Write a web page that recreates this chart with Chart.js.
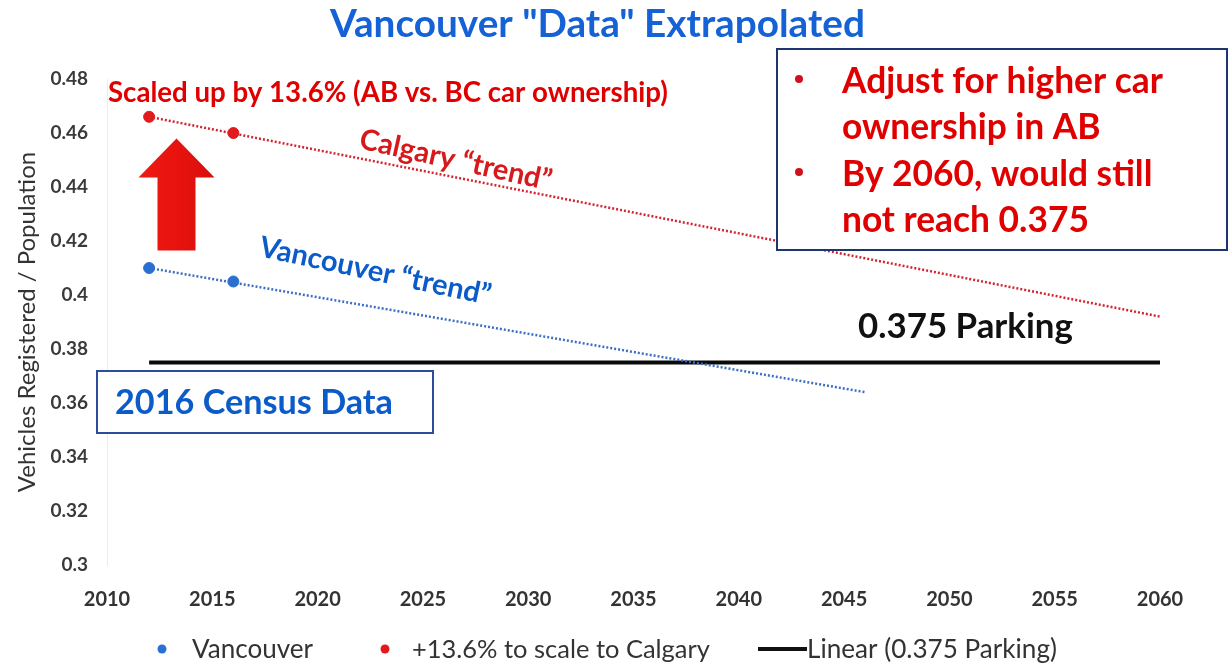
<!DOCTYPE html>
<html>
<head>
<meta charset="utf-8">
<script src="https://cdn.jsdelivr.net/npm/chart.js@4.4.1/dist/chart.umd.min.js"></script>
<style>
  html, body { margin: 0; padding: 0; background: #fff; }
  canvas { display: block; }
</style>
</head>
<body>
<canvas id="trendChart" width="1231" height="664"></canvas>
<script>
// census points (year, vehicles per person)
const censusYears = [2012, 2016];
const vancouverValues = [0.41, 0.405];
const calgaryValues = [0.466, 0.46];   // vancouver scaled up 13.6%

// extrapolated trend lines
const vancouverTrendYears = [2012, 2046];
const vancouverTrendValues = [0.41, 0.364];
const calgaryTrendYears = [2012, 2060];
const calgaryTrendValues = [0.466, 0.392];

// parking ratio
const parkingYears = [2012, 2060];
const parkingValues = [0.375, 0.375];

const xTickValues = [2010, 2015, 2020, 2025, 2030, 2035, 2040, 2045, 2050, 2055, 2060];
const yTickValues = [0.3, 0.32, 0.34, 0.36, 0.38, 0.4, 0.42, 0.44, 0.46, 0.48];

const BLUE = "#2a6fd3";
const RED = "#e31a1c";
const TEXT_RED = "#e00000";
const TEXT_BLUE = "#0b5cc9";
const FONT = "Lato, 'Open Sans', sans-serif";

const pts = (xs, ys) => xs.map((x, i) => ({ x: x, y: ys[i] }));

// draw text scaled so it spans the given width
function fitText(ctx, text, x, y, width, weight, color, align) {
  ctx.font = weight + " 20px " + FONT;
  const size = 20 * width / ctx.measureText(text).width;
  ctx.font = weight + " " + size.toFixed(2) + "px " + FONT;
  ctx.fillStyle = color;
  ctx.textAlign = align || "left";
  ctx.fillText(text, x, y);
  return size;
}

const annotations = {
  id: "annotations",
  afterDraw(chart) {
    const ctx = chart.ctx;
    const xs = chart.scales.x, ys = chart.scales.y;
    ctx.save();
    ctx.textBaseline = "alphabetic";

    // title
    fitText(ctx, 'Vancouver "Data" Extrapolated', 330, 37, 535, "bold", "#1462d6");

    // scaling note
    fitText(ctx, "Scaled up by 13.6% (AB vs. BC car ownership)", 108, 102, 560, "bold", TEXT_RED);

    // big up arrow between the two series
    const ax = xs.getPixelForValue(2013.3);
    const aBase = ys.getPixelForValue(0.4165);
    const aNeck = ys.getPixelForValue(0.4435);
    const aTip = ys.getPixelForValue(0.458);
    const grad = ctx.createLinearGradient(ax - 38, 0, ax + 38, 0);
    grad.addColorStop(0, "#f01a12");
    grad.addColorStop(0.5, "#e8120e");
    grad.addColorStop(1, "#d8100c");
    ctx.fillStyle = grad;
    ctx.beginPath();
    ctx.moveTo(ax - 19, aBase);
    ctx.lineTo(ax - 19, aNeck);
    ctx.lineTo(ax - 38, aNeck);
    ctx.lineTo(ax, aTip);
    ctx.lineTo(ax + 38, aNeck);
    ctx.lineTo(ax + 19, aNeck);
    ctx.lineTo(ax + 19, aBase);
    ctx.closePath();
    ctx.fill();

    // slanted trend labels
    ctx.save();
    ctx.translate(358, 148);
    ctx.rotate(12.5 * Math.PI / 180);
    fitText(ctx, "Calgary \u201ctrend\u201d", 0, 0, 196, "bold", "#d7191c");
    ctx.restore();

    ctx.save();
    ctx.translate(258, 256);
    ctx.rotate(12 * Math.PI / 180);
    fitText(ctx, "Vancouver \u201ctrend\u201d", 0, 0, 236, "bold", TEXT_BLUE);
    ctx.restore();

    // note box on the right
    ctx.fillStyle = "#fff";
    ctx.fillRect(777, 49, 450, 201);
    ctx.strokeStyle = "#1f3570";
    ctx.lineWidth = 2;
    ctx.strokeRect(777, 49, 450, 201);
    ctx.fillStyle = "#d0101a";
    [79, 172].forEach(by => {
      ctx.beginPath();
      ctx.arc(799, by, 4, 0, Math.PI * 2);
      ctx.fill();
    });
    const size = fitText(ctx, "Adjust for higher car", 842, 93, 321, "bold", TEXT_RED);
    ctx.font = "bold " + size.toFixed(2) + "px " + FONT;
    ctx.fillText("ownership in AB", 842, 139);
    ctx.fillText("By 2060, would still", 842, 186);
    ctx.fillText("not reach 0.375", 842, 232);

    // parking label
    fitText(ctx, "0.375 Parking", 858, 338, 215, "bold", "#111");

    // census box
    ctx.fillStyle = "#fff";
    ctx.fillRect(97, 371, 336, 62);
    ctx.strokeStyle = "#2c4d9c";
    ctx.lineWidth = 2;
    ctx.strokeRect(97, 371, 336, 62);
    fitText(ctx, "2016 Census Data", 115, 414, 278, "bold", TEXT_BLUE);

    // legend
    const ly = 650;
    ctx.fillStyle = BLUE;
    ctx.beginPath(); ctx.arc(162, ly - 1, 4.5, 0, Math.PI * 2); ctx.fill();
    ctx.fillStyle = RED;
    ctx.beginPath(); ctx.arc(385, ly - 1, 4.5, 0, Math.PI * 2); ctx.fill();
    ctx.strokeStyle = "#111";
    ctx.lineWidth = 4;
    ctx.beginPath(); ctx.moveTo(758, ly - 1); ctx.lineTo(807, ly - 1); ctx.stroke();
    ctx.textBaseline = "middle";
    fitText(ctx, "Vancouver", 192, ly, 121, "normal", "#333");
    fitText(ctx, "+13.6% to scale to Calgary", 412, ly, 298, "normal", "#333");
    fitText(ctx, "Linear (0.375 Parking)", 807, ly, 250, "normal", "#333");

    ctx.restore();
  }
};

const ctx = document.getElementById("trendChart").getContext("2d");

new Chart(ctx, {
  type: "scatter",
  data: {
    datasets: [
      {
        label: "Vancouver trend",
        type: "line",
        data: pts(vancouverTrendYears, vancouverTrendValues),
        borderColor: "#3b6fc2",
        borderWidth: 2.5,
        borderDash: [2, 2],
        pointRadius: 0,
        fill: false
      },
      {
        label: "Calgary trend",
        type: "line",
        data: pts(calgaryTrendYears, calgaryTrendValues),
        borderColor: "#d4242e",
        borderWidth: 2.5,
        borderDash: [2, 2],
        pointRadius: 0,
        fill: false
      },
      {
        label: "Linear (0.375 Parking)",
        type: "line",
        data: pts(parkingYears, parkingValues),
        borderColor: "#0a0a0a",
        borderWidth: 4,
        pointRadius: 0,
        fill: false
      },
      {
        label: "Vancouver",
        data: pts(censusYears, vancouverValues),
        backgroundColor: BLUE,
        borderColor: BLUE,
        pointRadius: 5.5
      },
      {
        label: "+13.6% to scale to Calgary",
        data: pts(censusYears, calgaryValues),
        backgroundColor: RED,
        borderColor: RED,
        pointRadius: 5.5
      }
    ]
  },
  options: {
    responsive: false,
    animation: false,
    layout: { padding: { left: 0, top: 79, right: 71, bottom: 0 } },
    scales: {
      x: {
        type: "linear",
        min: 2010,
        max: 2060,
        afterBuildTicks: s => { s.ticks = xTickValues.map(v => ({ value: v })); },
        afterFit: s => { s.height = 99; },
        grid: { display: false, drawTicks: false },
        border: { display: false },
        ticks: {
          padding: 23,
          color: "#333",
          font: { family: FONT, size: 20, weight: "bold" },
          callback: v => String(v)
        }
      },
      y: {
        min: 0.3,
        max: 0.48,
        afterBuildTicks: s => { s.ticks = yTickValues.map(v => ({ value: v })); },
        afterFit: s => { s.width = 107; },
        grid: { display: false, drawTicks: false },
        border: { display: true, color: "#ececec", width: 1 },
        ticks: {
          padding: 19,
          color: "#3a3a3a",
          font: { family: FONT, size: 19, weight: "bold" },
          callback: v => String(+v.toFixed(2))
        },
        title: {
          display: true,
          text: "Vehicles Registered / Population",
          color: "#333",
          font: { family: FONT, size: 24 },
          padding: { top: 13, bottom: 0 }
        }
      }
    },
    plugins: {
      legend: { display: false },
      tooltip: { enabled: false }
    }
  },
  plugins: [annotations]
});
</script>
</body>
</html>
